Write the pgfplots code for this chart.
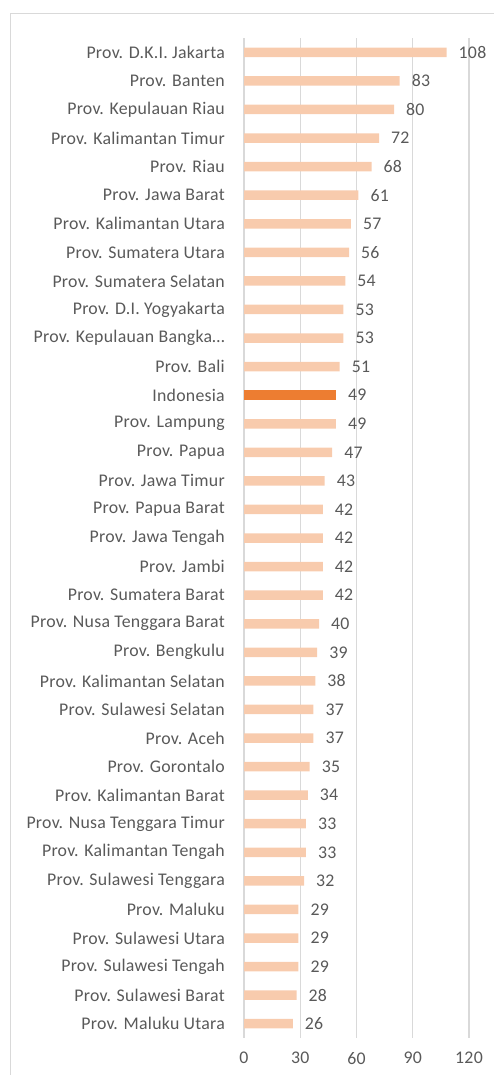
\documentclass[border=0pt]{standalone}
\usepackage{pgfplots}
\pgfplotsset{compat=1.18}
\usepackage{pgfplotstable}
\usepackage{fontspec}
\setmainfont{Carlito}[LetterSpace=1.5]
\definecolor{peach}{HTML}{F8CBAD}
\definecolor{orng}{HTML}{ED7D31}
\definecolor{txt}{HTML}{595959}
\definecolor{grid}{HTML}{D9D9D9}
\pgfplotstableread{
idx val
0 108
1 83
2 80
3 72
4 68
5 61
6 57
7 56
8 54
9 53
10 53
11 51
13 49
14 47
15 43
16 42
17 42
18 42
19 42
20 40
21 39
22 38
23 37
24 37
25 35
26 34
27 33
28 33
29 32
30 29
31 29
32 29
33 28
34 26
}\provinces
\pgfplotstableread{
idx val
12 49
}\national
\begin{document}
\begin{tikzpicture}
\begin{axis}[
  at={(244bp,-1038bp)}, anchor=south west,
  scale only axis, width=225bp, height=1000bp,
  xmin=0, xmax=120, ymin=-0.5, ymax=34.5, y dir=reverse,
  xtick={0,30,60,90,120},
  ytick={0,...,34},
  yticklabels={Prov. D.K.I. Jakarta, Prov. Banten, Prov. Kepulauan Riau, Prov. Kalimantan Timur, Prov. Riau, Prov. Jawa Barat, Prov. Kalimantan Utara, Prov. Sumatera Utara, Prov. Sumatera Selatan, Prov. D.I. Yogyakarta, Prov. Kepulauan Bangka\dots, Prov. Bali, Indonesia, Prov. Lampung, Prov. Papua, Prov. Jawa Timur, Prov. Papua Barat, Prov. Jawa Tengah, Prov. Jambi, Prov. Sumatera Barat, Prov. Nusa Tenggara Barat, Prov. Bengkulu, Prov. Kalimantan Selatan, Prov. Sulawesi Selatan, Prov. Aceh, Prov. Gorontalo, Prov. Kalimantan Barat, Prov. Nusa Tenggara Timur, Prov. Kalimantan Tengah, Prov. Sulawesi Tenggara, Prov. Maluku, Prov. Sulawesi Utara, Prov. Sulawesi Tengah, Prov. Sulawesi Barat, Prov. Maluku Utara},
  axis line style={draw=none},
  major tick length=0pt,
  xtick style={draw=none}, ytick style={draw=none},
  xmajorgrids=true, ymajorgrids=false,
  x grid style={grid, line width=1.1bp},
  tick label style={font=\fontsize{17.8bp}{20bp}\selectfont, text=txt, inner sep=0pt},
  yticklabel style={xshift=-19bp},
  xticklabel style={yshift=-14bp},
  /pgf/number format/assume math mode=true,
  xbar, bar width=9.5bp, bar shift=0pt,
  nodes near coords,
  nodes near coords style={font=\fontsize{17.8bp}{20bp}\selectfont, text=txt, inner sep=0pt, anchor=west, xshift=12bp},
  clip=false,
]
\addplot[draw=none, fill=peach] table[x=val, y=idx] {\provinces};
\addplot[draw=none, fill=orng] table[x=val, y=idx] {\national};
\end{axis}
\draw[grid, line width=1bp] (10bp,-1090bp) -- (10bp,-13bp) -- (510bp,-13bp);
\pgfresetboundingbox
\path[use as bounding box] (0,0) rectangle (494bp,-1075bp);
\end{tikzpicture}
\end{document}
